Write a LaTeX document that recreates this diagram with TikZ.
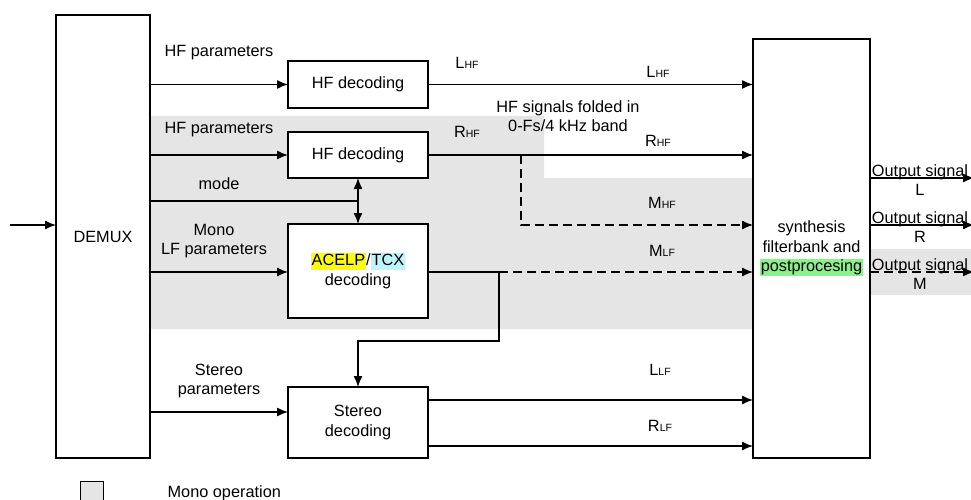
\documentclass[tikz,border=0pt]{standalone}
\usepackage{fontspec}
\setmainfont{Liberation Sans}
\usetikzlibrary{arrows.meta}

\definecolor{monogray}{RGB}{229,229,229}
\definecolor{hlyellow}{RGB}{250,250,20}
\definecolor{hlcyan}{RGB}{190,245,250}
\definecolor{hlgreen}{RGB}{140,240,140}
\newcommand{\sig}[2]{#1{\fontsize{10.5}{10.5}\selectfont #2}}
\newcommand{\hl}[2]{{\setlength{\fboxsep}{1pt}\colorbox{#1}{\rule[-3pt]{0pt}{14.5pt}#2}}}

\begin{document}
\begin{tikzpicture}[x=1pt, y=-1pt, line width=1.3pt,
        font=\fontsize{16.3}{19.5}\selectfont,
        block/.style={draw, fill=white, line width=1.4pt, inner sep=0pt, outer sep=0pt, align=center},
        lbl/.style={inner sep=0pt, align=center},
        arr/.style={-{Latex[length=11pt,width=9pt]}},
        folded/.style={dash pattern=on 9pt off 5pt}]
        \useasboundingbox (0,0) rectangle (971,500);

        % Mono operation area
        \fill [monogray] (150,116) -- (544,116) -- (544,178) -- (753,178) -- (753,329) -- (150,329) -- cycle;
        \fill [monogray] (870,249) rectangle (971,295);

        % DEMUX and input
        \node [block, minimum width=94pt, minimum height=443pt] (demux) at (103,236.5) {DEMUX};
        \coordinate (in) at (10,225);
        \draw [arr] (in) -- (in -| demux.west);

        % Blocks
        \node [block, minimum width=140pt, minimum height=47pt] (hfl) at (358,84.5) {HF decoding};
        \node [block, minimum width=140pt, minimum height=46pt] (hfr) at (358,155) {HF decoding};
        \node [block, minimum width=140pt, minimum height=94pt] (acelp) at (358,271) {\hl{hlyellow}{ACELP}/\hl{hlcyan}{TCX}\\decoding};
        \node [block, minimum width=140pt, minimum height=71pt] (stereo) at (358,422.5) {Stereo\\decoding};
        \node [block, minimum width=117pt, minimum height=419pt] (synth) at (811.5,248.5) {synthesis\\filterbank and\\\hl{hlgreen}{postprocesing}};

        % Parameters from DEMUX
        \draw [arr] (demux.east |- hfl) -- (hfl.west);
        \node [lbl] (hfpl) at (219,53) {HF parameters};
        \draw [arr] (demux.east |- hfr) -- (hfr.west);
        \node [lbl] (hfpr) at (219,130) {HF parameters};
        \coordinate (modejoin) at (358,201);
        \draw (demux.east |- modejoin) -- (modejoin);
        \node [lbl] (mode) at (219,184) {mode};
        \draw [{Latex[length=11pt,width=9pt]}-{Latex[length=11pt,width=9pt]}] (acelp.north) -- (hfr.south);
        \coordinate (lfin) at (acelp.west |- 0,272);
        \draw [arr] (demux.east |- lfin) -- (lfin);
        \node [lbl] (lfpar) at (214,241) {Mono\\LF parameters};
        \coordinate (stin) at ([yshift=10.5pt]stereo.west);
        \draw [arr] (demux.east |- stin) -- (stin);
        \node [lbl] (stpar) at (219,381) {Stereo\\parameters};

        % HF signals
        \draw [arr] (hfl.east) -- (hfl.east -| synth.west);
        \node [lbl] (lhfa) at (467,63) {\sig{L}{HF}};
        \node [lbl] (lhfb) at (658,72) {\sig{L}{HF}};
        \draw [arr] (hfr.east) -- (hfr.east -| synth.west);
        \node [lbl] (rhfa) at (467,132) {\sig{R}{HF}};
        \node [lbl] (rhfb) at (658,141) {\sig{R}{HF}};
        \node [lbl] (fold) at (568,116) {HF signals folded in\\0-Fs/4 kHz band};
        \coordinate (foldtop) at (521,155);
        \coordinate (mhfin) at (synth.west |- 0,225);
        \draw [arr, folded] (foldtop) |- (mhfin);
        \node [lbl] (mhf) at (662,203) {\sig{M}{HF}};

        % LF signals
        \coordinate (split) at (499,272);
        \draw (lfin -| acelp.east) -- (split);
        \draw [arr, folded] (split) -- (split -| synth.west);
        \node [lbl] (mlf) at (662,251) {\sig{M}{LF}};
        \draw [arr] (split) |- (358,341) -- (stereo.north);

        % Stereo outputs
        \coordinate (llfout) at ([yshift=22.5pt]stereo.east);
        \coordinate (rlfout) at ([yshift=-23.5pt]stereo.east);
        \draw [arr] (llfout) -- (llfout -| synth.west);
        \node [lbl] (llf) at (660,370) {\sig{L}{LF}};
        \draw [arr] (rlfout) -- (rlfout -| synth.west);
        \node [lbl] (rlf) at (660,426) {\sig{R}{LF}};

        % Output signals
        \coordinate (outl) at (974,178);
        \coordinate (outr) at (974,225);
        \coordinate (outm) at (974,272);
        \draw [arr] (synth.east |- outl) -- (outl);
        \draw [arr] (synth.east |- outr) -- (outr);
        \draw [arr, folded] (synth.east |- outm) -- (outm);
        \node [lbl] (sigl) at (920,180) {Output signal\\L};
        \node [lbl] (sigr) at (920,227) {Output signal\\R};
        \node [lbl] (sigm) at (920,274) {Output signal\\M};

        % Legend
        \node [draw, fill=monogray, line width=1pt, minimum width=23pt, minimum height=22pt, inner sep=0pt] (legbox) at (91.5,492) {};
        \node [lbl, anchor=west] (legtext) at (167,493) {Mono operation};
    \end{tikzpicture}
\end{document}
